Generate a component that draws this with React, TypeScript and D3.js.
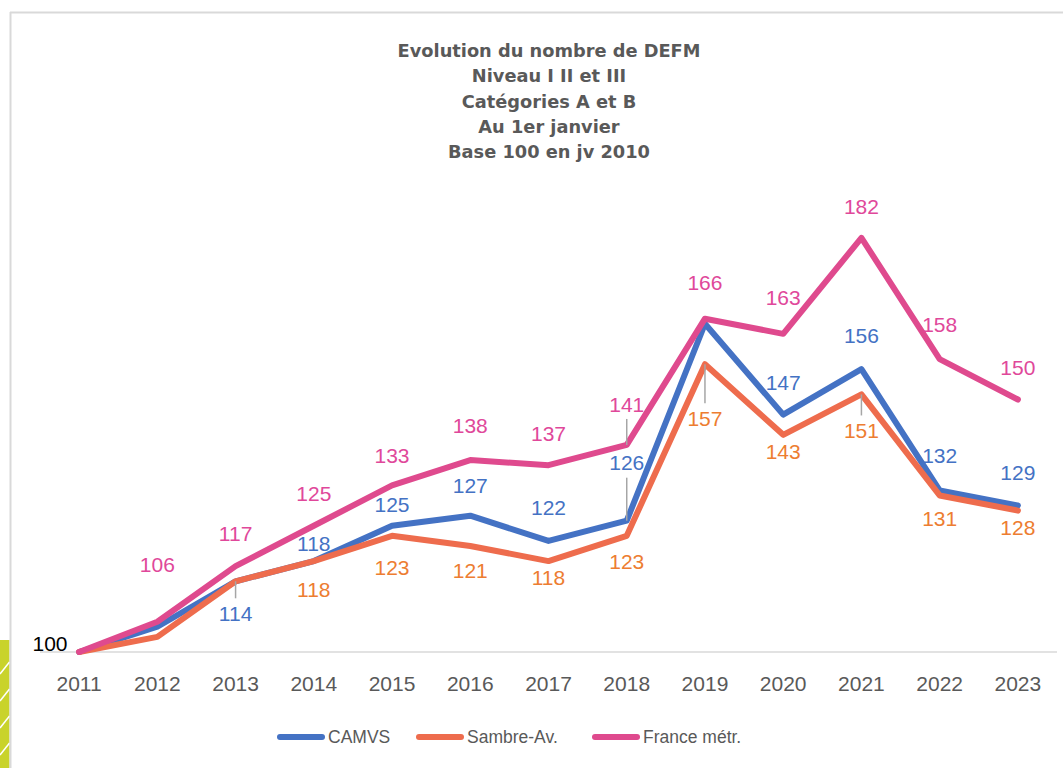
import * as d3 from "d3";

// Données (base 100 en janvier 2010)
const years = ["2011", "2012", "2013", "2014", "2015", "2016", "2017", "2018", "2019", "2020", "2021", "2022", "2023"];
const camvs = [100, 105, 114, 118, 125, 127, 122, 126, 165, 147, 156, 132, 129];
const sambre = [100, 103, 114, 118, 123, 121, 118, 123, 157, 143, 151, 131, 128];
const france = [100, 106, 117, 125, 133, 138, 137, 141, 166, 163, 182, 158, 150];

const titleLines = [
  "Evolution du nombre de DEFM",
  "Niveau I II et III",
  "Catégories A et B",
  "Au 1er janvier",
  "Base 100 en jv 2010",
];

// placement des étiquettes (décalage vertical en px, null = pas d'étiquette)
const camvsLabelDy = [null, null, 32, -18, -21, -30, -33, -58, null, -32, -34, -35, -33];
const sambreLabelDy = [null, null, null, 28, 32, 24, 16, 26, 54, 17, 36, 23, 17];
const franceLabelDy = [null, -57, -33, -32, -30, -35, -32, -41, -36, -36, -31, -35, -32];
// étiquettes reliées au point par un trait
const camvsLeaders = [2, 7];
const sambreLeaders = [8, 10];
const franceLeaders = [7];

const series = [
  { name: "CAMVS", values: camvs, line: "#4472C4", text: "#4472C4", dy: camvsLabelDy, leaders: camvsLeaders },
  { name: "Sambre-Av.", values: sambre, line: "#EE6C4D", text: "#ED7D31", dy: sambreLabelDy, leaders: sambreLeaders },
  { name: "France métr.", values: france, line: "#DF4A8E", text: "#E0489A", dy: franceLabelDy, leaders: franceLeaders },
];

const legendX = [277, 416, 592];

export default function App() {
  const width = 1063;
  const height = 768;

  const x = d3.scaleBand().domain(years).range([40, 1057]);
  const cx = (yr) => (x(yr) ?? 0) + x.bandwidth() / 2;
  const y = d3.scaleLinear().domain([100, 190]).range([652, 197.5]);

  const line = d3
    .line<number>()
    .x((_, i) => cx(years[i]))
    .y((d) => y(d));

  const font = "'Liberation Sans', Arial, sans-serif";
  const stripes = d3.range(668, 780, 27);

  return (
    <svg
      width={width}
      height={height}
      style={{ position: "absolute", left: 0, top: 0, display: "block", background: "#fff" }}
    >
      {/* décor en bas à gauche */}
      <rect x={0} y={640} width={9.5} height={128} fill="#C9D32B" />
      {stripes.map((s) => (
        <line key={s} x1={0} y1={s + 6} x2={9.5} y2={s - 6} stroke="#fff" strokeWidth={1.5} />
      ))}

      {/* cadre */}
      <line x1={10.5} y1={12} x2={10.5} y2={height} stroke="#D9D9D9" strokeWidth={2} />
      <line x1={10} y1={12.5} x2={width} y2={12.5} stroke="#D9D9D9" strokeWidth={2} />

      {/* titre */}
      <text
        textAnchor="middle"
        fontFamily="'DejaVu Sans', sans-serif"
        fontWeight="bold"
        fontSize={17.8}
        fill="#595959"
      >
        {titleLines.map((t, i) => (
          <tspan key={i} x={549} y={57 + i * 25.3}>
            {t}
          </tspan>
        ))}
      </text>

      {/* axe horizontal */}
      <line x1={40} x2={1057} y1={y(100)} y2={y(100)} stroke="#D9D9D9" strokeWidth={1.5} />
      {years.map((yr) => (
        <text key={yr} x={cx(yr)} y={691} textAnchor="middle" fontFamily={font} fontSize={21} fill="#595959">
          {yr}
        </text>
      ))}

      {/* courbes */}
      {series.map((s) => (
        <path
          key={s.name}
          d={line(s.values) ?? ""}
          fill="none"
          stroke={s.line}
          strokeWidth={6}
          strokeLinejoin="round"
          strokeLinecap="round"
        />
      ))}

      {/* traits de rappel */}
      {series.map((s) =>
        s.leaders.map((i) => {
          const py = y(s.values[i]);
          const dy = s.dy[i] ?? 0;
          const ly = py + dy - Math.sign(dy) * 15;
          return (
            <line
              key={s.name + i}
              x1={cx(years[i])}
              x2={cx(years[i])}
              y1={ly}
              y2={py}
              stroke="#A6A6A6"
              strokeWidth={1.5}
            />
          );
        })
      )}

      {/* étiquettes */}
      {series.map((s) =>
        s.values.map((v, i) =>
          s.dy[i] == null ? null : (
            <text
              key={s.name + i}
              x={cx(years[i])}
              y={y(v) + (s.dy[i] as number)}
              dy="0.36em"
              textAnchor="middle"
              fontFamily={font}
              fontSize={21}
              fill={s.text}
            >
              {v}
            </text>
          )
        )
      )}
      <text x={50} y={643} dy="0.36em" textAnchor="middle" fontFamily={font} fontSize={21} fill="#000">
        {france[0]}
      </text>

      {/* légende */}
      {series.map((s, i) => (
        <g key={s.name} transform={`translate(${legendX[i]},737)`}>
          <line x1={3} x2={45} y1={0} y2={0} stroke={s.line} strokeWidth={6} strokeLinecap="round" />
          <text x={51} dy="0.36em" fontFamily={font} fontSize={17.5} fill="#595959">
            {s.name}
          </text>
        </g>
      ))}
    </svg>
  );
}
